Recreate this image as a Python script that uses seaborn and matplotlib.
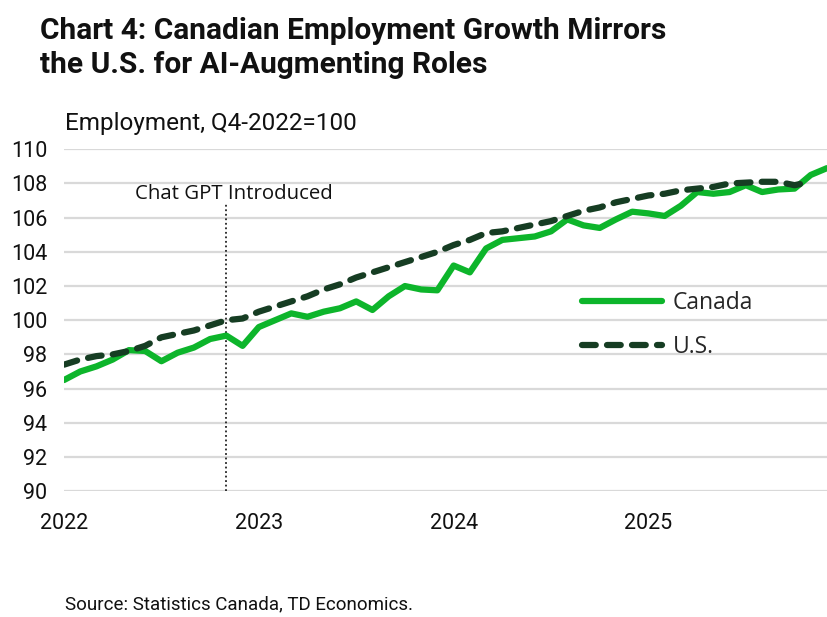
import numpy as np
import pandas as pd
import matplotlib.pyplot as plt
import seaborn as sns

# monthly index values, Jan 2022 onward (Q4-2022 = 100)
canada = [96.5, 97.0, 97.3, 97.7, 98.25, 98.2, 97.6, 98.1, 98.4, 98.9, 99.1, 98.5,
          99.6, 100.0, 100.4, 100.2, 100.5, 100.7, 101.1, 100.6, 101.4, 102.0, 101.8, 101.75,
          103.2, 102.8, 104.2, 104.7, 104.8, 104.9, 105.2, 105.9, 105.55, 105.4, 105.9, 106.35,
          106.25, 106.1, 106.7, 107.5, 107.4, 107.5, 107.9, 107.5, 107.65, 107.7, 108.5, 108.9]
us = [97.4, 97.7, 97.9, 98.0, 98.2, 98.5, 99.0, 99.2, 99.4, 99.7, 100.0, 100.1,
      100.5, 100.8, 101.1, 101.4, 101.8, 102.1, 102.5, 102.8, 103.1, 103.4, 103.7, 104.0,
      104.4, 104.7, 105.1, 105.2, 105.4, 105.6, 105.8, 106.1, 106.4, 106.6, 106.9, 107.1,
      107.3, 107.4, 107.6, 107.7, 107.8, 108.0, 108.05, 108.1, 108.1, 107.9, 108.1]
years = ["2022", "2023", "2024", "2025"]
chatgpt_month = 10  # Nov 2022

sns.set_theme(style="white")
plt.rcParams["font.family"] = ["Roboto", "DejaVu Sans"]

df_ca = pd.DataFrame({"month": np.arange(len(canada)), "value": canada})
df_us = pd.DataFrame({"month": np.arange(len(us)), "value": us})

fig = plt.figure(figsize=(8.27, 6.17), dpi=100)
ax = fig.add_axes([0.0774, 0.204, 0.9226, 0.554])

ax.set_ylim(90, 110)
ax.set_xlim(0, len(canada) - 1)
ax.set_yticks(np.arange(90, 111, 2))
ax.yaxis.grid(True, color="#d9d9d9", linewidth=1.6)
ax.set_axisbelow(True)

ax.axvline(chatgpt_month, ymin=0, ymax=(106.8 - 90) / 20, color="#222222",
           linestyle=(0, (1, 1.5)), linewidth=1.3)
ax.text(4.4, 107.4, "Chat GPT Introduced", fontsize=14.7, va="center", ha="left",
        family=["Open Sans", "DejaVu Sans"], color="#111111")

sns.lineplot(data=df_ca, x="month", y="value", ax=ax, color="#0db52b",
             linewidth=4.5, label="Canada", solid_capstyle="round")
sns.lineplot(data=df_us, x="month", y="value", ax=ax, color="#163d23",
             linewidth=4.5, label="U.S.", linestyle=(0, (2.2, 1.8)),
             dash_capstyle="round")

for s in ax.spines.values():
    s.set_visible(False)
ax.tick_params(length=0, labelsize=15.5, colors="#111111")
ax.tick_params(axis="y", pad=12)
ax.tick_params(axis="x", pad=16)
ax.set_xticks([0, 12, 24, 36])
ax.set_xticklabels(years)
ax.set_xlabel("")
ax.set_ylabel("")

leg = ax.legend(loc="upper left", bbox_to_anchor=(0.652, 0.645), frameon=False,
                handlelength=3.5, labelspacing=0.88, handletextpad=0.45,
                prop={"family": ["Open Sans", "DejaVu Sans"], "size": 16.5})

fig.text(0.048, 0.972, "Chart 4: Canadian Employment Growth Mirrors\nthe U.S. for AI-Augmenting Roles",
         fontsize=21.5, fontweight="bold", va="top", ha="left", linespacing=1.28, color="#111111")
fig.text(0.079, 0.80, "Employment, Q4-2022=100", fontsize=17.5, va="center", ha="left",
         color="#111111")
fig.text(0.079, 0.021, "Source: Statistics Canada, TD Economics.", fontsize=13.5,
         va="center", ha="left", color="#111111")

fig.savefig("out.png", dpi=100)
